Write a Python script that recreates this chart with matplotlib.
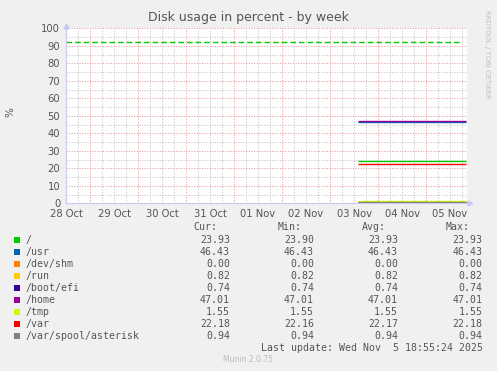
import matplotlib
matplotlib.use("Agg")
import matplotlib.pyplot as plt
from matplotlib.patches import Rectangle

# ---------------- data ----------------
tick_labels = ["28 Oct", "29 Oct", "30 Oct", "31 Oct", "01 Nov", "02 Nov", "03 Nov", "04 Nov", "05 Nov"]
tick_days = [0, 1, 2, 3, 4, 5, 6, 7, 8]          # days since 28 Oct
x_max_days = 8.354
series_days = [6.09, 8.33]                        # start / end of recorded data (days)

names = ["/", "/usr", "/dev/shm", "/run", "/boot/efi", "/home", "/tmp", "/var", "/var/spool/asterisk"]
colors = ["#00CC00", "#0066B3", "#FF8000", "#FFCC00", "#330099", "#990099", "#CCFF00", "#FF0000", "#808080"]
cur = [23.93, 46.43, 0.00, 0.82, 0.74, 47.01, 1.55, 22.18, 0.94]
mins = [23.90, 46.43, 0.00, 0.82, 0.74, 47.01, 1.55, 22.16, 0.94]
avg = [23.93, 46.43, 0.00, 0.82, 0.74, 47.01, 1.55, 22.17, 0.94]
maxs = [23.93, 46.43, 0.00, 0.82, 0.74, 47.01, 1.55, 22.18, 0.94]
warning_level = 92
warning_end_days = 8.25

W, H = 497, 371
fig = plt.figure(figsize=(W / 100, H / 100), dpi=100)
fig.patch.set_facecolor("#F0F0F0")

left, right, top, bottom = 66, 467, 28.3, 203.3
ax = fig.add_axes([left / W, 1 - bottom / H, (right - left) / W, (bottom - top) / H])
ax.set_facecolor("white")
ax.set_xlim(0, x_max_days)
ax.set_ylim(0, 100)

# grid
minor_c = "#C4C4C4"
major_c = "#EC9A9A"
dot = (0, (1, 1.5))
d = 0.25
while d < x_max_days:
    if abs((d % 1) - 0.5) > 1e-6:
        ax.axvline(d, color=minor_c, lw=0.75, ls=dot, zorder=1)
    d += 0.25
d = 0.5
while d < x_max_days:
    ax.axvline(d, color=major_c, lw=0.75, ls=dot, zorder=1.5)
    d += 1
for y in range(5, 100, 10):
    ax.axhline(y, color=minor_c, lw=0.75, ls=dot, zorder=1)
for y in range(10, 101, 10):
    ax.axhline(y, color=major_c, lw=0.75, ls=dot, zorder=1.5)

# warning line
ax.plot([0, warning_end_days], [warning_level, warning_level], color="#00CC00",
        lw=1.0, dashes=(4, 2.2), zorder=3)

# series
for n, c, v in zip(names, colors, cur):
    ax.plot(series_days, [v, v], color=c, lw=1.0, zorder=4, solid_capstyle="butt")

for s in ax.spines.values():
    s.set_visible(False)
ax.plot([0, 0], [0, 100], color="#C8C8F0", lw=0.8, zorder=5, clip_on=False)
ax.plot([0, x_max_days], [0, 0], color="#C8C8F0", lw=0.8, zorder=5, clip_on=False)
ax.plot([0], [101.5], marker="^", color="#C8C8F0", ms=3.5, clip_on=False, zorder=5)
ax.plot([x_max_days + 0.06], [0], marker=">", color="#C8C8F0", ms=3.5, clip_on=False, zorder=5)

ax.set_xticks(tick_days)
ax.set_xticklabels(tick_labels)
ax.set_yticks(range(0, 101, 10))
ax.tick_params(axis="both", length=0, labelsize=7.2, colors="#555555")
ax.tick_params(axis="y", pad=4.2)
ax.tick_params(axis="x", pad=4.3)

fig.text(248 / W, 1 - 18 / H, "Disk usage in percent - by week", ha="center", va="center",
         fontsize=9, color="#555555")
fig.text(10 / W, 1 - 112 / H, "%", rotation=90, ha="center", va="center", fontsize=7.5, color="#555555")
fig.text(487 / W, 1 - 54 / H, "RRDTOOL / TOBI OETIKER", rotation=270, ha="center", va="center",
         fontsize=5.0, color="#C0C0C0")

# legend table
mono = "DejaVu Sans Mono"
fs = 7.1
tc = "#555555"
yh = 227.5
for label, xr in zip(["Cur:", "Min:", "Avg:", "Max:"], [217, 301.7, 385.7, 470]):
    fig.text(xr / W, 1 - yh / H, label, ha="right", va="center", family=mono, fontsize=fs, color=tc)
for i, (n, c) in enumerate(zip(names, colors)):
    y = 240 + 12 * i
    fig.patches.append(Rectangle(((16.7 - 3) / W, 1 - (y + 3) / H), 6 / W, 6 / H,
                                 transform=fig.transFigure, facecolor=c, edgecolor="none"))
    fig.text(26 / W, 1 - y / H, n, ha="left", va="center", family=mono, fontsize=fs, color=tc)
    for vals, xr in zip([cur, mins, avg, maxs], [230, 314, 398, 482.7]):
        fig.text(xr / W, 1 - y / H, f"{vals[i]:.2f}", ha="right", va="center", family=mono,
                 fontsize=fs, color=tc)
fig.text(482.7 / W, 1 - 347.7 / H, "Last update: Wed Nov  5 18:55:24 2025", ha="right", va="center",
         family=mono, fontsize=fs, color=tc)
fig.text(247.7 / W, 1 - 360 / H, "Munin 2.0.75", ha="center", va="center", fontsize=5.5, color="#BBBBBB")

fig.savefig("out.png", dpi=100, facecolor=fig.get_facecolor())
